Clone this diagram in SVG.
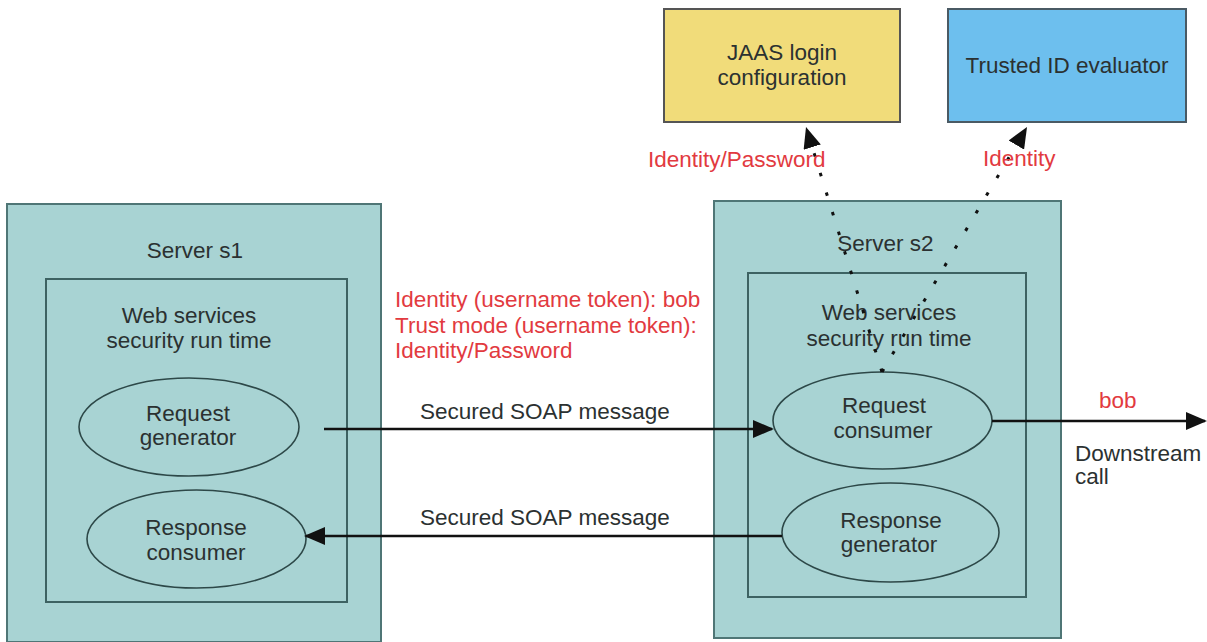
<svg xmlns="http://www.w3.org/2000/svg" width="1207" height="642" viewBox="0 0 1207 642">
<style>
text{font-family:"Liberation Sans",Arial,sans-serif;font-size:22.5px;fill:#2b3131}
.c{text-anchor:middle}
.red{fill:#e23a40}
.server{fill:#a8d3d3;stroke:#4f7676;stroke-width:2}
.inner{fill:#a8d3d3;stroke:#3d6262;stroke-width:2}
.ell{fill:#a8d3d3;stroke:#2d4848;stroke-width:1.6}
.conn{fill:none;stroke:#111;stroke-width:2.4}
.dot{fill:none;stroke:#111;stroke-width:3;stroke-dasharray:3.5 17}
</style>
<defs>
<marker id="ah" viewBox="0 0 21 18" refX="19" refY="9" markerWidth="21" markerHeight="18" markerUnits="userSpaceOnUse" orient="auto">
<path d="M0,0 L21,9 L0,18 z" fill="#111"/>
</marker>
</defs>
<g id="jaas">
<rect x="664" y="9" width="236" height="113" fill="#f1dc7a" stroke="#555" stroke-width="2"/>
<text class="c" x="782" y="60">JAAS login</text>
<text class="c" x="782" y="85">configuration</text>
</g>
<g id="trusted">
<rect x="948" y="9" width="238" height="113" fill="#6dbfee" stroke="#4a5a64" stroke-width="2"/>
<text class="c" x="1067" y="73">Trusted ID evaluator</text>
</g>
<g id="server-s1">
<rect class="server" x="7" y="204" width="374" height="438"/>
<text class="c" x="195" y="258">Server s1</text>
<rect class="inner" x="46" y="279" width="301" height="323"/>
<text class="c" x="189" y="323">Web services</text>
<text class="c" x="189" y="348">security run time</text>
</g>
<g id="request-generator">
<ellipse class="ell" cx="189" cy="427" rx="110" ry="49"/>
<text class="c" x="188" y="421">Request</text>
<text class="c" x="188" y="445">generator</text>
</g>
<g id="response-consumer">
<ellipse class="ell" cx="196.5" cy="539" rx="109.5" ry="49"/>
<text class="c" x="196" y="535">Response</text>
<text class="c" x="196" y="560">consumer</text>
</g>
<g id="server-s2">
<rect class="server" x="714" y="201" width="347" height="437"/>
<text class="c" x="885.5" y="251">Server s2</text>
<rect class="inner" x="748" y="273" width="278" height="324"/>
<text class="c" x="889" y="320">Web services</text>
<text class="c" x="889" y="346">security run time</text>
</g>
<g id="request-consumer">
<ellipse class="ell" cx="882.5" cy="420.5" rx="109.5" ry="48.5"/>
<text class="c" x="884" y="413">Request</text>
<text class="c" x="883" y="438">consumer</text>
</g>
<g id="response-generator">
<ellipse class="ell" cx="890.5" cy="532.5" rx="108.5" ry="49.5"/>
<text class="c" x="891" y="528">Response</text>
<text class="c" x="889" y="552">generator</text>
</g>
<g id="connectors">
<path class="conn" d="M324,429 L772,429" marker-end="url(#ah)"/>
<path class="conn" d="M782,536 L306,536" marker-end="url(#ah)"/>
<path class="conn" d="M992,421 L1205,421" marker-end="url(#ah)"/>
<path class="dot" d="M882,372 L806.6,129" marker-end="url(#ah)"/>
<path class="dot" d="M882,372 L1026,128.7" marker-end="url(#ah)"/>
<text class="red" x="648" y="167">Identity/Password</text>
<text class="red" x="983" y="166">Identity</text>
<text class="red" x="395" y="307">Identity (username token): bob</text>
<text class="red" x="395" y="333">Trust mode (username token):</text>
<text class="red" x="395" y="358">Identity/Password</text>
<text x="420" y="419">Secured SOAP message</text>
<text x="420" y="525">Secured SOAP message</text>
<text class="red" x="1099" y="408">bob</text>
<text x="1075" y="461">Downstream</text>
<text x="1075" y="484">call</text>
</g>
</svg>
